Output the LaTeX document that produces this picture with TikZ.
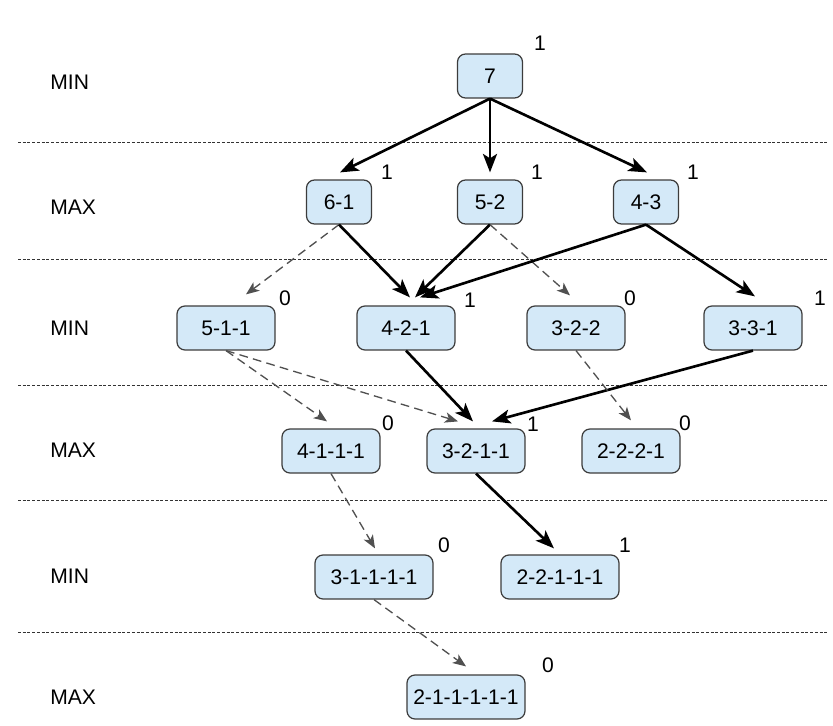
\documentclass[tikz,border=0pt]{standalone}
\usepackage{fontspec}
\setmainfont{Liberation Sans}
\usetikzlibrary{arrows.meta,calc}
\definecolor{boxfill}{RGB}{212,233,248}
\definecolor{boxdraw}{RGB}{60,60,60}
\definecolor{dashgray}{RGB}{80,80,80}
\begin{document}
\begin{tikzpicture}[x=0.02cm,y=-0.02cm,
  state/.style={draw=boxdraw, line width=0.7pt, fill=boxfill, rounded corners=0.16cm,
    minimum height=0.88cm, inner sep=0pt, font=\fontsize{12}{14}\selectfont},
  wa/.style={state, minimum width=1.3cm},
  wb/.style={state, minimum width=1.96cm},
  wc/.style={state, minimum width=2.36cm},
  val/.style={font=\fontsize{12}{14}\selectfont, inner sep=0pt},
  lvl/.style={font=\fontsize{12}{14}\selectfont, anchor=west, inner sep=0pt},
  sep/.style={draw=black!80, line width=0.5pt, dash pattern=on 1.7pt off 1pt},
  win/.style={line width=1.5pt, -{Stealth[length=10.5pt,width=8pt,inset=2.5pt]}},
  lose/.style={draw=dashgray, line width=0.75pt, dash pattern=on 5pt off 3pt,
    -{Stealth[length=7.5pt,width=6pt,inset=2pt]}}]
\useasboundingbox (0,0) rectangle (833,726);

% separators
\foreach \yy in {142,259,385,500,632}
  \draw[sep] (18,\yy) -- (828,\yy);

% level labels
\node[lvl] (l1) at (50,82)  {MIN};
\node[lvl] (l2) at (50,207) {MAX};
\node[lvl] (l3) at (50,328) {MIN};
\node[lvl] (l4) at (50,450) {MAX};
\node[lvl] (l5) at (50,576) {MIN};
\node[lvl] (l6) at (50,697) {MAX};

% nodes
\node[wa] (n7) at (490,76) {7};
\node[wa] (n61) at (339,202) {6-1};
\node[wa] (n52) at (490,202) {5-2};
\node[wa] (n43) at (646,202) {4-3};
\node[wb] (n511) at (226,328) {5-1-1};
\node[wb] (n421) at (406,328) {4-2-1};
\node[wb] (n322) at (576,328) {3-2-2};
\node[wb] (n331) at (753,328) {3-3-1};
\node[wb] (n4111) at (331,451) {4-1-1-1};
\node[wb] (n3211) at (476,451) {3-2-1-1};
\node[wb] (n2221) at (631,451) {2-2-2-1};
\node[wc] (n31111) at (374,577) {3-1-1-1-1};
\node[wc] (n22111) at (560,577) {2-2-1-1-1};
\node[wc] (n211111) at (466,697) {2-1-1-1-1-1};

% values
\node[val] (v7) at (540,43) {1};
\node[val] (v61) at (387,172) {1};
\node[val] (v52) at (537,172) {1};
\node[val] (v43) at (693,172) {1};
\node[val] (v511) at (285,298) {0};
\node[val] (v421) at (470,300) {1};
\node[val] (v322) at (630,298) {0};
\node[val] (v331) at (820,298) {1};
\node[val] (v4111) at (388,423) {0};
\node[val] (v3211) at (533,424) {1};
\node[val] (v2221) at (685,423) {0};
\node[val] (v31111) at (444,545) {0};
\node[val] (v22111) at (625,545) {1};
\node[val] (v211111) at (548,665) {0};

% connectors
\draw[win] (n7.south) -- ($(n61.north)+(1,-7)$);
\draw[win] (n7.south) -- ($(n52.north)+(0,-7)$);
\draw[win] (n7.south) -- ($(n43.north)+(1,-7)$);

\draw[lose] (n61.south) -- ($(n511.north)+(20,-11)$);
\draw[win] (n61.south) -- ($(n421.north)+(4,-8)$);
\draw[win] (n52.south) -- ($(n421.north)+(9,-8)$);
\draw[lose] (n52.south) -- ($(n322.north)+(-6,-10)$);
\draw[win] (n43.south) -- ($(n421.north)+(14,-8)$);
\draw[win] (n43.south) -- ($(n331.north)+(2,-9)$);

\draw[lose] (n511.south) -- ($(n4111.north)+(-4,-7)$);
\draw[lose] (n511.south) -- ($(n3211.north)+(-18,-7)$);
\draw[win] (n421.south) -- ($(n3211.north)+(-3,-7)$);
\draw[win] (n331.south) -- ($(n3211.north)+(16,-7)$);
\draw[lose] (n322.south) -- ($(n2221.north)+(0,-8)$);

\draw[lose] (n4111.south) -- ($(n31111.north)+(1,-6)$);
\draw[win] (n3211.south) -- ($(n22111.north)+(-6,-6)$);

\draw[lose] (n31111.south) -- ($(n211111.north)+(0,-8)$);
\end{tikzpicture}
\end{document}
